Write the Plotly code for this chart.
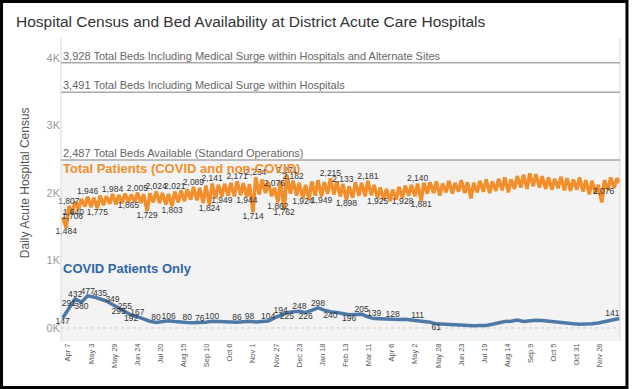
import pandas as pd
import plotly.graph_objects as go

# ---------------- data ----------------
title_text = "Hospital Census and Bed Availability at District Acute Care Hospitals"
y_title = "Daily Acute Hospital Census"

ref_values = [3928, 3491, 2487]
ref_labels = [
    "3,928 Total Beds Including Medical Surge within Hospitals and Alternate Sites",
    "3,491 Total Beds Including Medical Surge within Hospitals",
    "2,487 Total Beds Available (Standard Operations)",
]

tick_labels = ["Apr 7", "May 3", "May 29", "Jun 24", "Jul 20", "Aug 15", "Sep 10", "Oct 6",
               "Nov 1", "Nov 27", "Dec 23", "Jan 18", "Feb 13", "Mar 11", "Apr 6", "May 2",
               "May 28", "Jun 23", "Jul 19", "Aug 14", "Sep 9", "Oct 5", "Oct 31", "Nov 26"]
tick_start = "2020-04-07"

# Total patients: mid-week highs (Wednesdays from 2020-04-01)
orange_highs = [1640, 1807, 1870, 1910, 1946, 1930, 1960, 1950, 1984, 1970,
                1990, 1975, 2005, 1980, 1995, 2024, 2000, 1985, 2021, 2040,
                2055, 2089, 2075, 2110, 2141, 2120, 2135, 2150, 2171, 2145,
                2130, 2234, 2200, 2160, 2076, 2180, 2271, 2182, 2150, 2120,
                2170, 2190, 2160, 2215, 2170, 2133, 2100, 2160, 2150, 2181,
                2120, 2080, 2060, 2050, 2090, 2110, 2120, 2140, 2150, 2160,
                2170, 2140, 2180, 2150, 2190, 2160, 2150, 2180, 2200, 2170,
                2210, 2230, 2200, 2250, 2270, 2290, 2280, 2250, 2230, 2210,
                2240, 2220, 2200, 2230, 2190, 2180, 2120, 2190, 2230, 2220]
# Total patients: weekend lows (Sundays from 2020-04-05)
orange_lows = [1484, 1706, 1760, 1800, 1790, 1775, 1820, 1840, 1830, 1850,
               1865, 1870, 1850, 1729, 1860, 1850, 1830, 1803, 1860, 1880,
               1900, 1890, 1850, 1824, 1920, 1949, 1960, 1950, 1970, 1944,
               1714, 1980, 2000, 1950, 1862, 1762, 1990, 1960, 1924, 1900,
               1960, 1949, 1990, 1980, 1950, 1898, 1930, 1960, 1950, 1970,
               1925, 1900, 1880, 1900, 1928, 1960, 1950, 1881, 1990, 2000,
               1960, 2010, 1990, 2020, 2000, 1920, 2010, 2020, 2000, 2030,
               2040, 2010, 2060, 2080, 2060, 2100, 2080, 2060, 2050, 2070,
               2040, 2030, 2050, 2020, 1980, 1990, 1860, 2040, 2076]
orange_end_date = "2021-12-18"
orange_end_value = 2150

# COVID patients (weekly, Wednesdays from 2020-04-01)
blue_values = [147, 291, 432, 380, 477, 460, 435, 400, 349, 295,
               255, 192, 167, 130, 100, 80, 90, 106, 95, 85,
               80, 78, 76, 85, 100, 95, 92, 90, 86, 92,
               98, 90, 95, 104, 150, 194, 225, 240, 248, 226,
               265, 298, 265, 240, 230, 215, 196, 200, 205, 165,
               139, 135, 130, 128, 125, 130, 120, 111, 100, 85,
               61, 55, 48, 42, 38, 35, 33, 35, 38, 55,
               75, 95, 100, 118, 95, 110, 115, 112, 100, 90,
               80, 72, 62, 55, 55, 62, 75, 95, 125, 135]
blue_end_date = "2021-12-18"
blue_end_value = 141

orange_label_high_dates = ["2020-04-08", "2020-04-29", "2020-05-27", "2020-06-24",
                           "2020-07-15", "2020-08-05", "2020-08-26", "2020-09-16", "2020-10-14",
                           "2020-11-04", "2020-11-25", "2020-12-09", "2020-12-16", "2021-01-27",
                           "2021-02-10", "2021-03-10", "2021-05-05"]
orange_label_low_dates = ["2020-04-05", "2020-04-12", "2020-05-10", "2020-06-14", "2020-07-05",
                          "2020-08-02", "2020-09-13", "2020-09-27", "2020-10-25", "2020-11-01",
                          "2020-11-29", "2020-12-06", "2020-12-27", "2021-01-17", "2021-02-14",
                          "2021-03-21", "2021-04-18", "2021-05-09"]
orange_label_start_dates = ["2020-04-01"]
orange_label_end_dates = ["2021-12-12"]

blue_label_high_dates = ["2020-04-08", "2020-04-15", "2020-04-29", "2020-05-13", "2020-05-27",
                         "2020-06-10", "2020-06-24", "2020-07-15", "2020-07-29", "2020-08-19",
                         "2020-09-02", "2020-09-16", "2020-10-14", "2020-10-28", "2020-11-18",
                         "2020-12-02", "2020-12-23", "2021-01-13", "2021-03-03", "2021-03-17",
                         "2021-04-07", "2021-05-05"]
blue_label_low_dates = ["2020-04-01", "2020-04-22", "2020-06-03", "2020-06-17", "2020-12-09",
                        "2020-12-30", "2021-01-27", "2021-02-17", "2021-05-26"]
blue_label_end_dates = ["2021-12-18"]

# ---------------- build series ----------------
orange = pd.concat([
    pd.Series(orange_highs, index=pd.date_range("2020-04-01", periods=len(orange_highs), freq="7D")),
    pd.Series(orange_lows, index=pd.date_range("2020-04-05", periods=len(orange_lows), freq="7D")),
]).sort_index()
orange.loc[pd.Timestamp(orange_end_date)] = orange_end_value

blue = pd.Series(blue_values, index=pd.date_range("2020-04-01", periods=len(blue_values), freq="7D"))
blue.loc[pd.Timestamp(blue_end_date)] = blue_end_value

tick_dates = pd.date_range(tick_start, periods=len(tick_labels), freq="26D")

ORANGE = "#f28e2b"
BLUE = "#4e79a7"
FONT = "Arial, Liberation Sans, sans-serif"
LABEL_FONT = dict(family=FONT, size=8.5, color="#333333")

fig = go.Figure()
fig.add_trace(go.Scatter(x=orange.index, y=orange.values, mode="lines",
                         line=dict(color=ORANGE, width=3.5), hoverinfo="skip"))
fig.add_trace(go.Scatter(x=blue.index, y=blue.values, mode="lines",
                         line=dict(color=BLUE, width=3.5), hoverinfo="skip"))


def add_labels(series, dates, pos):
    idx = pd.to_datetime(dates)
    vals = series.loc[idx]
    fig.add_trace(go.Scatter(x=idx, y=vals.values, mode="text",
                             text=[f"{int(v):,}" for v in vals.values],
                             textposition=pos, textfont=LABEL_FONT,
                             cliponaxis=False, hoverinfo="skip"))


add_labels(orange, orange_label_high_dates, "top center")
add_labels(orange, orange_label_low_dates, "bottom center")
add_labels(orange, orange_label_start_dates, "top right")
add_labels(orange, orange_label_end_dates, "bottom left")
add_labels(blue, blue_label_high_dates, "top center")
add_labels(blue, blue_label_low_dates, "bottom center")
add_labels(blue, blue_label_end_dates, "top left")

Y_MIN, Y_MAX = -193, 4296

shapes = [
    dict(type="rect", xref="paper", yref="y", x0=0, x1=1, y0=Y_MIN, y1=ref_values[2],
         fillcolor="#f3f3f3", line=dict(width=0), layer="below"),
    dict(type="line", xref="paper", yref="y", x0=0, x1=1, y0=0, y1=0,
         line=dict(color="#cfcfcf", width=1, dash="dot"), layer="below"),
    dict(type="line", xref="paper", yref="paper", x0=0, x1=0, y0=0, y1=1,
         line=dict(color="#d9d9d9", width=1)),
    dict(type="line", xref="paper", yref="paper", x0=1, x1=1, y0=0, y1=1,
         line=dict(color="#d9d9d9", width=1)),
    dict(type="rect", xref="paper", yref="paper", x0=-0.1064, x1=1.0125, y0=-0.1535, y1=1.1205,
         line=dict(color="black", width=3)),
]
for v in ref_values:
    shapes.append(dict(type="line", xref="paper", yref="y", x0=0, x1=1, y0=v, y1=v,
                       line=dict(color="#a9a9a9", width=1.5)))

annotations = []
for v, t in zip(ref_values, ref_labels):
    annotations.append(dict(xref="paper", yref="y", x=0, y=v, xanchor="left", yanchor="bottom",
                            text=t, showarrow=False, yshift=-1,
                            font=dict(family=FONT, size=11, color="#666666")))
annotations.append(dict(xref="paper", yref="y", x=0, y=ref_values[2], xanchor="left", yanchor="top",
                        text="<b>Total Patients (COVID and non-COVID)</b>", showarrow=False, yshift=1,
                        font=dict(family=FONT, size=13, color=ORANGE)))
annotations.append(dict(xref="paper", yref="y", x=0, y=874, xanchor="left", yanchor="middle",
                        text="<b>COVID Patients Only</b>", showarrow=False,
                        font=dict(family=FONT, size=13, color="#2f66a6")))
annotations.append(dict(xref="paper", yref="paper", x=-0.0644, y=0.521, xanchor="center", yanchor="middle",
                        text=y_title, textangle=-90, showarrow=False,
                        font=dict(family=FONT, size=12, color="#555555")))

fig.update_layout(
    width=633, height=389,
    margin=dict(l=61, r=13, t=38, b=48),
    paper_bgcolor="white", plot_bgcolor="white",
    showlegend=False,
    title=dict(text=title_text, x=16 / 633, xanchor="left", y=1 - 22 / 389, yanchor="middle",
               xref="container", yref="container",
               font=dict(family=FONT, size=15.5, color="#333333")),
    xaxis=dict(type="date", range=["2020-03-30 03:00", "2021-12-18 12:00"],
               tickvals=tick_dates, ticktext=tick_labels, tickangle=-90,
               tickfont=dict(family=FONT, size=7.5, color="#555555"),
               showgrid=False, zeroline=False, showline=False, ticks=""),
    yaxis=dict(range=[Y_MIN, Y_MAX], tickvals=[0, 1000, 2000, 3000, 4000],
               ticktext=["0K", "1K", "2K", "3K", "4K"],
               tickfont=dict(family=FONT, size=11, color="#999999"),
               showgrid=False, zeroline=False, showline=False, ticks=""),
    shapes=shapes,
    annotations=annotations,
)

fig.write_html("out.html", config={"displayModeBar": False},
               post_script="document.body.style.margin='0';window.dispatchEvent(new Event('resize'));")
